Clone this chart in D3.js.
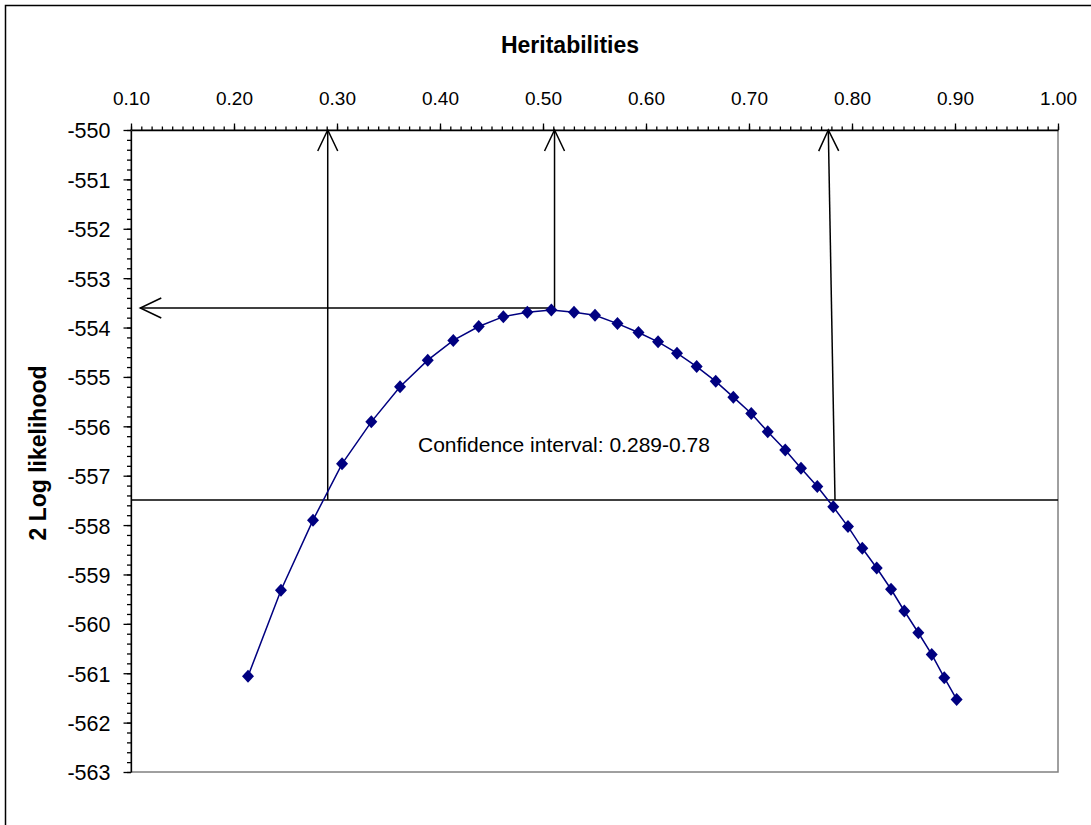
<!DOCTYPE html>
<html>
<head>
<meta charset="utf-8">
<script src="https://cdn.jsdelivr.net/npm/d3@7"></script>
<style>
  body { margin: 0; background: #fff; }
  svg { display: block; font-family: "Liberation Sans", Arial, sans-serif; }
</style>
</head>
<body>
<div id="main"></div>
<script>
// Heritability (x) and 2 log likelihood (y)
const heritability = [0.2136, 0.2456, 0.2767, 0.3049, 0.3333, 0.3612, 0.3881, 0.4129, 0.4376,
  0.4615, 0.4848, 0.5081, 0.5301, 0.5505, 0.5723, 0.5927, 0.6117, 0.6301, 0.6492, 0.6677,
  0.6848, 0.7022, 0.7182, 0.7352, 0.7505, 0.7663, 0.7818, 0.7961, 0.8100, 0.8240, 0.8379,
  0.8508, 0.8644, 0.8774, 0.8896, 0.9016];
const logLik = [-561.06, -559.32, -557.90, -556.76, -555.91, -555.20, -554.66, -554.26, -553.98,
  -553.78, -553.69, -553.645, -553.69, -553.75, -553.92, -554.10, -554.29, -554.52, -554.79, -555.09,
  -555.41, -555.74, -556.11, -556.48, -556.85, -557.22, -557.63, -558.03, -558.47, -558.87, -559.30,
  -559.74, -560.18, -560.62, -561.09, -561.53];

// x axis ticks (top) and y axis ticks
const xTicks = [0.1, 0.2, 0.3, 0.4, 0.5, 0.6, 0.7, 0.8, 0.9, 1.0];
const yTicks = [-550, -551, -552, -553, -554, -555, -556, -557, -558, -559, -560, -561, -562, -563];

// annotation values
const maxLL = -553.605;
const cutoff = -557.49;
const hAtMax = 0.5112;
const ciLow = [0.291, 0.291];   // bottom, top of left arrow
const ciHigh = [0.7835, 0.777]; // bottom, top of right arrow
const ciLabel = 'Confidence interval: 0.289-0.78';

const width = 1091, height = 825;
const margin = { left: 131, top: 130, right: 33, bottom: 53 };

const svg = d3.select('#main').append('svg')
  .attr('width', width)
  .attr('height', height);

// outer chart frame
svg.append('rect')
  .attr('x', 5.5).attr('y', 5.5)
  .attr('width', 1100).attr('height', 840)
  .attr('fill', 'none')
  .attr('stroke', '#000')
  .attr('stroke-width', 1.5);

const x = d3.scaleLinear().domain([0.1, 1.0]).range([margin.left, width - margin.right]);
const y = d3.scaleLinear().domain([-550, -563]).range([margin.top, height - margin.bottom]);

// plot area border
svg.append('rect')
  .attr('x', x(0.1)).attr('y', y(-550))
  .attr('width', x(1.0) - x(0.1)).attr('height', y(-563) - y(-550))
  .attr('fill', 'none')
  .attr('stroke', '#808080')
  .attr('stroke-width', 1.5);

// minor ticks
svg.append('g')
  .attr('transform', `translate(0,${y(-550)})`)
  .call(d3.axisTop(x).tickValues(d3.range(10, 101).map(d => d / 100)).tickSize(3.5).tickFormat(''))
  .call(g => g.select('.domain').remove());
svg.append('g')
  .attr('transform', `translate(${x(0.1)},0)`)
  .call(d3.axisLeft(y).tickValues(d3.range(0, 66).map(d => -550 - d / 5)).tickSize(4).tickFormat(''))
  .call(g => g.select('.domain').remove());

// major axes
const xAxis = svg.append('g')
  .attr('transform', `translate(0,${y(-550)})`)
  .call(d3.axisTop(x).tickValues(xTicks).tickSize(6.5).tickSizeOuter(0).tickPadding(19).tickFormat(d3.format('.2f')));
xAxis.selectAll('text').attr('font-size', 19).attr('fill', '#000').attr('font-family', null);

const yAxis = svg.append('g')
  .attr('transform', `translate(${x(0.1)},0)`)
  .call(d3.axisLeft(y).tickValues(yTicks).tickSize(7.5).tickSizeOuter(0).tickPadding(13).tickFormat(d => String(d)));
yAxis.selectAll('text').attr('font-size', 21.5).attr('fill', '#000').attr('dy', '0.37em').attr('font-family', null);

svg.selectAll('.domain, .tick line').attr('stroke', '#000').attr('stroke-width', 1.3);

// titles
svg.append('text')
  .attr('x', 570).attr('y', 53)
  .attr('text-anchor', 'middle')
  .attr('font-size', 23).attr('font-weight', 'bold')
  .text('Heritabilities');

svg.append('text')
  .attr('transform', `translate(46,${453}) rotate(-90)`)
  .attr('text-anchor', 'middle')
  .attr('font-size', 23).attr('font-weight', 'bold')
  .text('2 Log likelihood');

// arrow marker
svg.append('defs').append('marker')
  .attr('id', 'arrow')
  .attr('viewBox', '-23 -12 26 24')
  .attr('markerUnits', 'userSpaceOnUse')
  .attr('markerWidth', 26).attr('markerHeight', 24)
  .attr('refX', 0).attr('refY', 0)
  .attr('orient', 'auto')
  .append('path')
  .attr('d', 'M-21,-10L0,0L-21,10')
  .attr('fill', 'none')
  .attr('stroke', '#000')
  .attr('stroke-width', 1.5);

// cutoff line
svg.append('line')
  .attr('x1', x(0.1)).attr('x2', x(1.0))
  .attr('y1', y(cutoff)).attr('y2', y(cutoff))
  .attr('stroke', '#000').attr('stroke-width', 1.5);

const arrows = [
  { x1: ciLow[0], y1: cutoff, x2: ciLow[1], y2: -550 },
  { x1: hAtMax, y1: maxLL, x2: hAtMax, y2: -550 },
  { x1: hAtMax, y1: maxLL, x2: 0.109, y2: maxLL },
  { x1: ciHigh[0], y1: cutoff, x2: ciHigh[1], y2: -550 }
];
svg.append('g').selectAll('line')
  .data(arrows)
  .join('line')
  .attr('x1', d => x(d.x1)).attr('y1', d => y(d.y1))
  .attr('x2', d => x(d.x2)).attr('y2', d => y(d.y2))
  .attr('stroke', '#000').attr('stroke-width', 1.5)
  .attr('marker-end', 'url(#arrow)');

// the likelihood curve
const pts = heritability.map((h, i) => [h, logLik[i]]);
svg.append('path')
  .datum(pts)
  .attr('d', d3.line().x(d => x(d[0])).y(d => y(d[1])))
  .attr('fill', 'none')
  .attr('stroke', '#000080')
  .attr('stroke-width', 1.5);

svg.append('g').selectAll('path')
  .data(pts)
  .join('path')
  .attr('transform', d => `translate(${x(d[0])},${y(d[1])})`)
  .attr('d', 'M0,-6.5L6,0L0,6.5L-6,0Z')
  .attr('fill', '#000080');

// confidence interval label
svg.append('text')
  .attr('x', 418).attr('y', 452)
  .attr('font-size', 21)
  .text(ciLabel);
</script>
</body>
</html>
